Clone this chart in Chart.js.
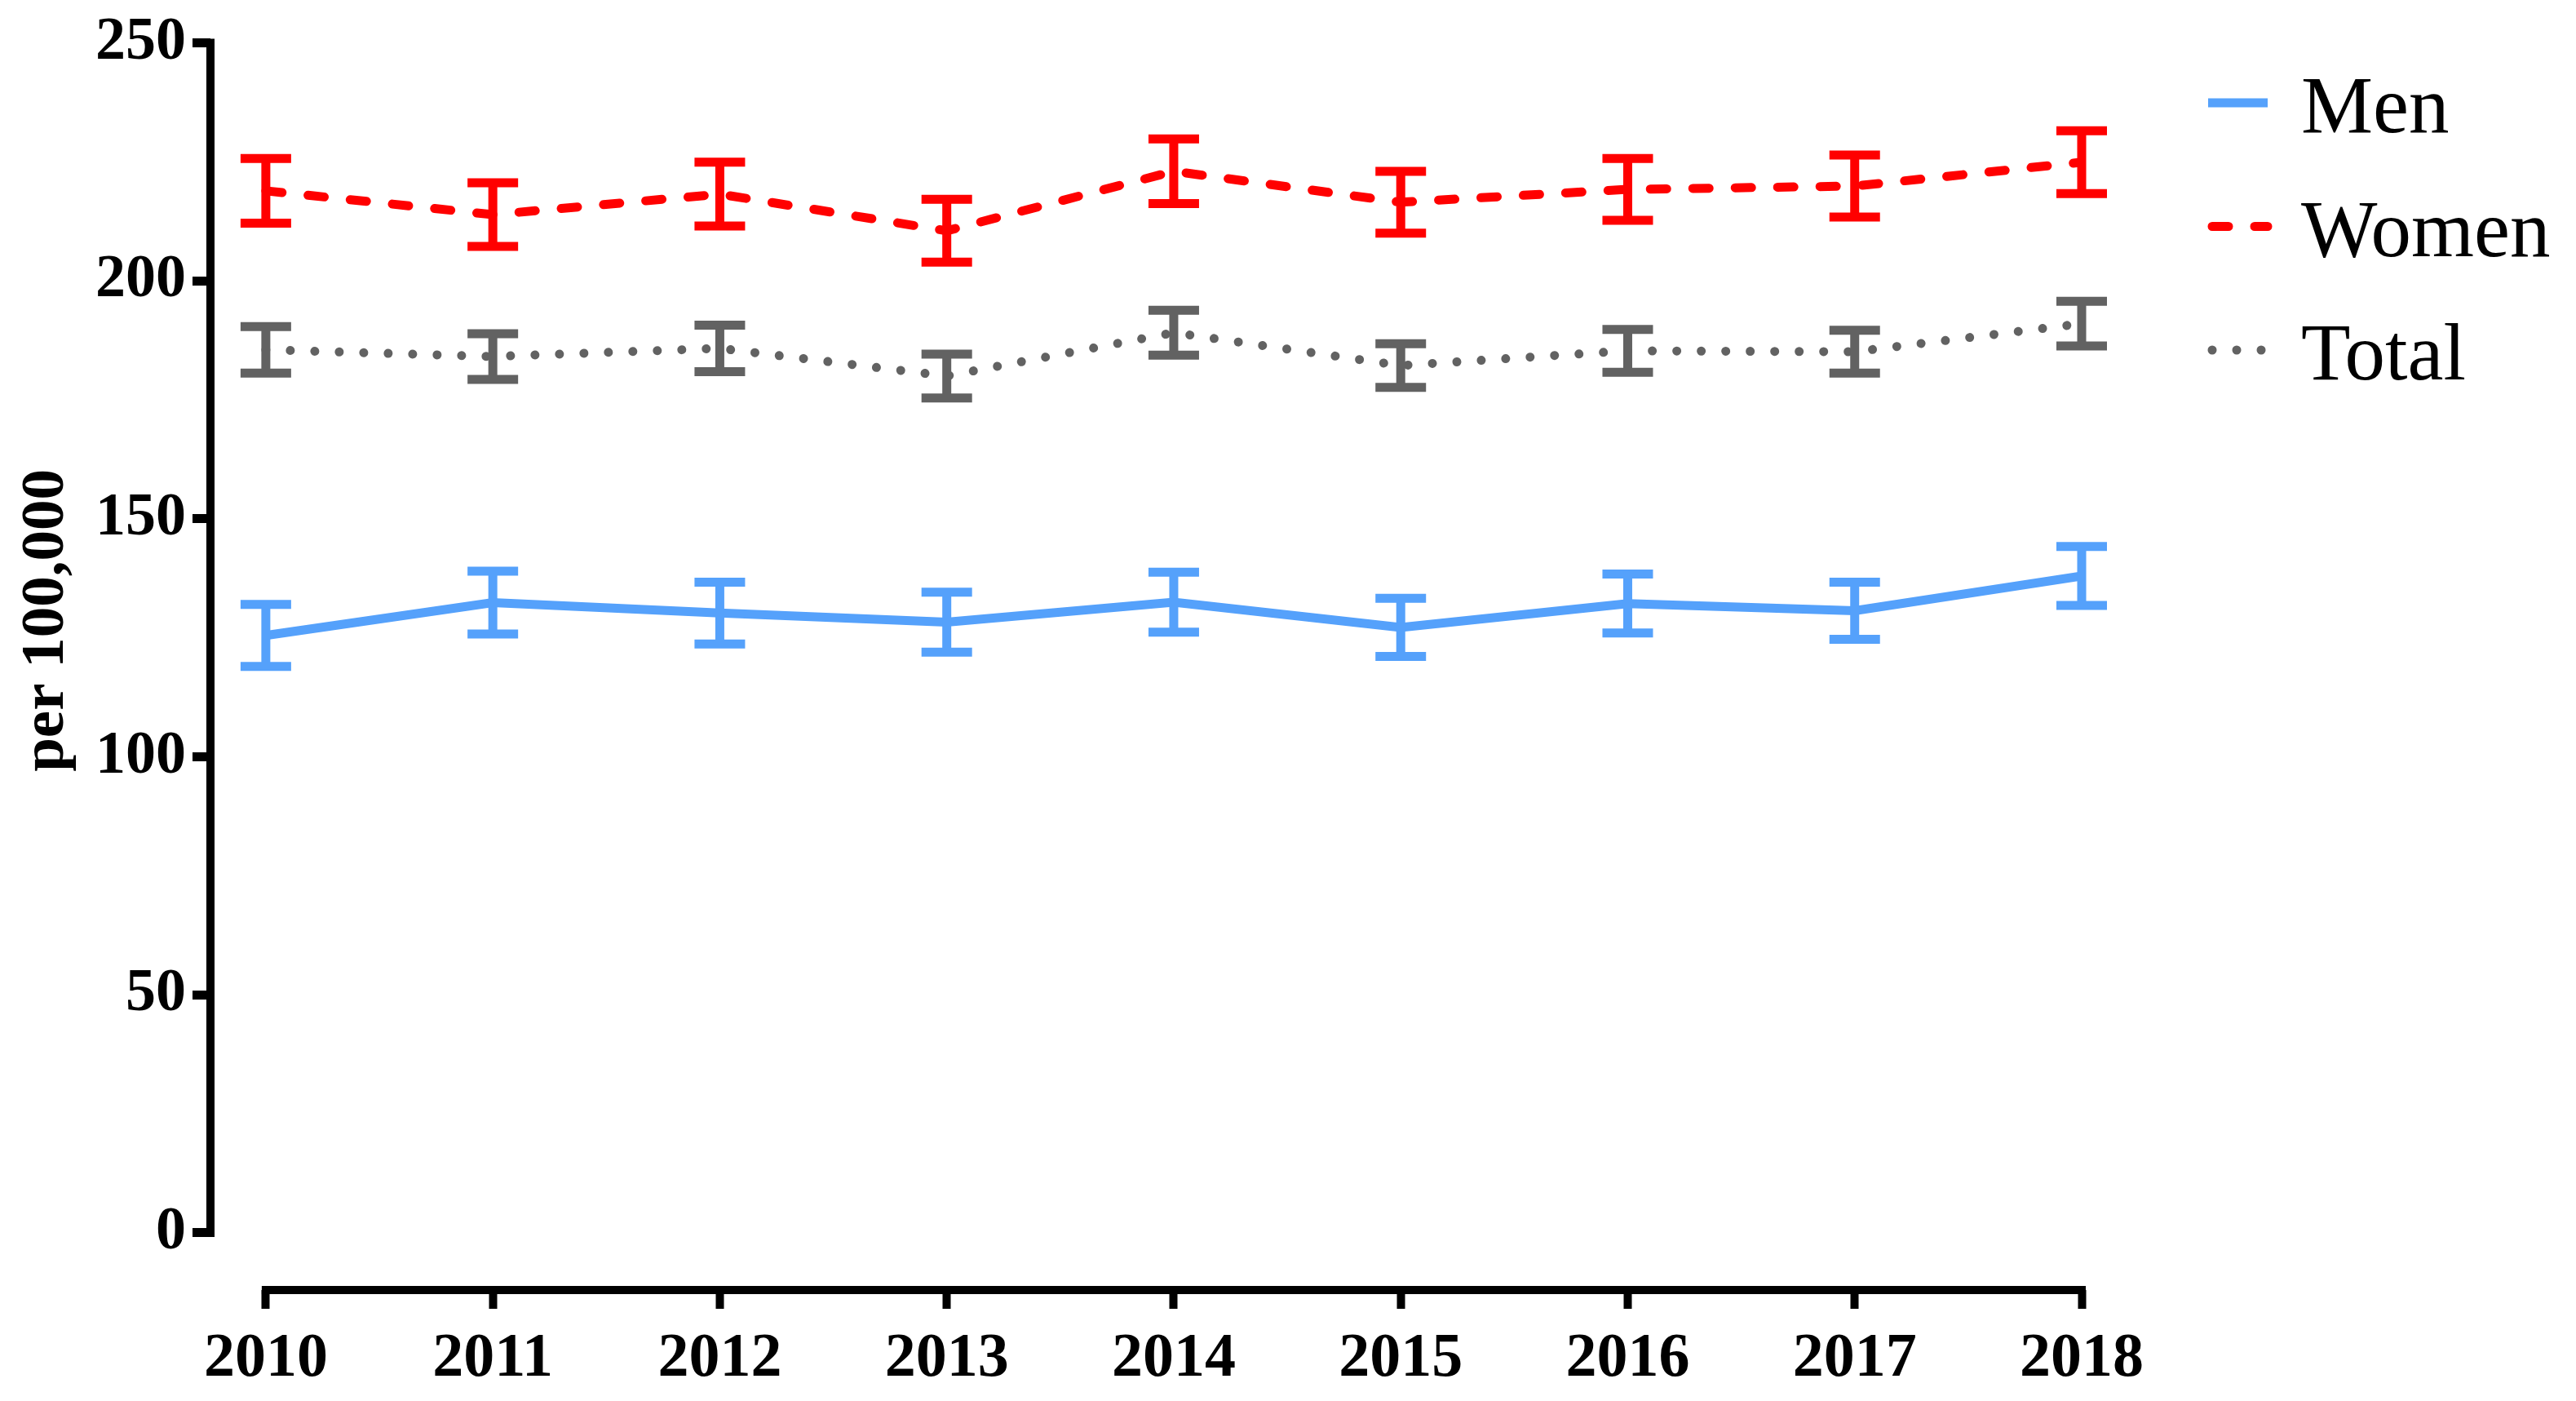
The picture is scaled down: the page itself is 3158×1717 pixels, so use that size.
<!DOCTYPE html>
<html>
<head>
<meta charset="utf-8">
<title>Rate per 100,000, 2010-2018</title>
<script src="https://cdn.jsdelivr.net/npm/chart.js@4/dist/chart.umd.min.js"></script>
<style>
  html, body { margin: 0; padding: 0; background: #fff; }
  #wrap { width: 3158px; height: 1717px; position: relative; }
</style>
</head>
<body>
<div id="wrap"><canvas id="rateChart"></canvas></div>
<script>
// ─── Data ───
const years = [2010, 2011, 2012, 2013, 2014, 2015, 2016, 2017, 2018];

const menRate   = [125.5, 132.4, 130.2, 128.3, 132.5, 127.2, 132.2, 130.7, 138.0];
const menErr    = [6.5, 6.6, 6.5, 6.3, 6.3, 6.1, 6.2, 6.0, 6.2];

const womenRate = [218.9, 213.9, 218.2, 210.5, 223.0, 216.5, 219.2, 219.9, 224.9];
const womenErr  = [6.8, 6.7, 6.7, 6.6, 6.8, 6.5, 6.5, 6.5, 6.6];

const totalRate = [185.5, 184.1, 185.8, 180.0, 189.1, 182.2, 185.3, 185.1, 191.0];
const totalErr  = [4.9, 4.8, 4.9, 4.6, 4.7, 4.6, 4.5, 4.5, 4.7];

const yTicks = [0, 50, 100, 150, 200, 250];

const FONT = "'Liberation Serif', 'DejaVu Serif', serif";

const toPoints = arr => arr.map((v, i) => ({ x: years[i], y: v }));

// ─── Error bars (caps + stems) ───
const errorBars = {
    id: 'errorBars',
    afterDatasetsDraw(chart) {
        const { ctx } = chart;
        const y = chart.scales.y;
        chart.data.datasets.forEach((ds, i) => {
            const meta = chart.getDatasetMeta(i);
            ctx.save();
            ctx.strokeStyle = ds.borderColor;
            ctx.lineWidth = 11;
            ctx.lineCap = 'butt';
            meta.data.forEach((pt, j) => {
                const v = ds.data[j].y, e = ds.errors[j];
                const top = y.getPixelForValue(v + e);
                const bot = y.getPixelForValue(v - e);
                ctx.beginPath();
                ctx.moveTo(pt.x, top); ctx.lineTo(pt.x, bot);
                ctx.moveTo(pt.x - 31, top); ctx.lineTo(pt.x + 31, top);
                ctx.moveTo(pt.x - 31, bot); ctx.lineTo(pt.x + 31, bot);
                ctx.stroke();
            });
            ctx.restore();
        });
    }
};

// ─── Detached axis lines (Prism style) ───
const axisLines = {
    id: 'axisLines',
    afterDraw(chart) {
        const { ctx, chartArea } = chart;
        const { x, y } = chart.scales;
        ctx.save();
        ctx.strokeStyle = '#000';
        ctx.lineWidth = 10;
        ctx.lineCap = 'square';
        ctx.beginPath();
        ctx.moveTo(chartArea.left, y.getPixelForValue(yTicks[yTicks.length - 1]));
        ctx.lineTo(chartArea.left, y.getPixelForValue(yTicks[0]));
        ctx.moveTo(x.getPixelForValue(years[0]), chartArea.bottom);
        ctx.lineTo(x.getPixelForValue(years[years.length - 1]), chartArea.bottom);
        ctx.stroke();
        ctx.restore();
    }
};

// ─── Legend on the right ───
const sideLegend = {
    id: 'sideLegend',
    afterDraw(chart) {
        const { ctx, chartArea } = chart;
        const x0 = chartArea.right + 155;
        ctx.save();
        chart.data.datasets.forEach((ds, i) => {
            const cy = 126 + i * 151.5;
            ctx.strokeStyle = ds.borderColor;
            ctx.lineWidth = ds.borderWidth;
            ctx.lineCap = ds.borderCapStyle || 'butt';
            ctx.setLineDash(ds.borderDash || []);
            ctx.beginPath();
            ctx.moveTo(x0 + (ds.borderDash ? 5 : 0), cy);
            ctx.lineTo(x0 + 73, cy);
            ctx.stroke();
            ctx.setLineDash([]);
            ctx.fillStyle = '#000';
            ctx.font = `99px ${FONT}`;
            ctx.textAlign = 'left';
            ctx.textBaseline = 'alphabetic';
            ctx.fillText(ds.label, x0 + 114, cy + 36);
        });
        ctx.restore();
    }
};

new Chart(document.getElementById('rateChart'), {
    type: 'line',
    data: {
        datasets: [
            {
                label: 'Men',
                data: toPoints(menRate),
                errors: menErr,
                borderColor: '#55A1FB',
                borderWidth: 11,
                borderCapStyle: 'butt'
            },
            {
                label: 'Women',
                data: toPoints(womenRate),
                errors: womenErr,
                borderColor: '#FF0000',
                borderWidth: 11,
                borderDash: [20, 32],
                borderCapStyle: 'round'
            },
            {
                label: 'Total',
                data: toPoints(totalRate),
                errors: totalErr,
                borderColor: '#626262',
                borderWidth: 11,
                borderDash: [0.01, 30],
                borderCapStyle: 'round'
            }
        ]
    },
    options: {
        responsive: true,
        maintainAspectRatio: false,
        animation: false,
        devicePixelRatio: 1,
        layout: { padding: { top: 50, right: 606, bottom: 0, left: 0 } },
        elements: { point: { radius: 0, hoverRadius: 0 }, line: { tension: 0 } },
        plugins: { legend: { display: false }, tooltip: { enabled: false } },
        scales: {
            x: {
                type: 'linear',
                min: 2009.756,
                max: 2018,
                afterBuildTicks: s => { s.ticks = years.map(v => ({ value: v })); },
                afterFit: s => { s.height = 136; },
                border: { display: false },
                grid: { drawOnChartArea: false, drawTicks: true, tickLength: 23, tickWidth: 10, tickColor: '#000' },
                ticks: {
                    color: '#000', padding: 17, autoSkip: false, maxRotation: 0,
                    font: { family: FONT, size: 76, weight: 'bold' },
                    callback: v => String(v)
                }
            },
            y: {
                min: -12,
                max: 250,
                afterBuildTicks: s => { s.ticks = yTicks.map(v => ({ value: v })); },
                afterFit: s => { s.width = 258; },
                border: { display: false },
                grid: { drawOnChartArea: false, drawTicks: true, tickLength: 22, tickWidth: 11, tickColor: '#000' },
                ticks: {
                    color: '#000', padding: 8,
                    font: { family: FONT, size: 74, weight: 'bold' }
                },
                title: {
                    display: true,
                    // leading spaces nudge the label up to centre it on the 0–250 span
                    text: '      per 100,000',
                    color: '#000',
                    padding: { top: 13, bottom: 0 },
                    font: { family: FONT, size: 75, weight: 'bold' }
                }
            }
        }
    },
    plugins: [errorBars, axisLines, sideLegend]
});
</script>
</body>
</html>
